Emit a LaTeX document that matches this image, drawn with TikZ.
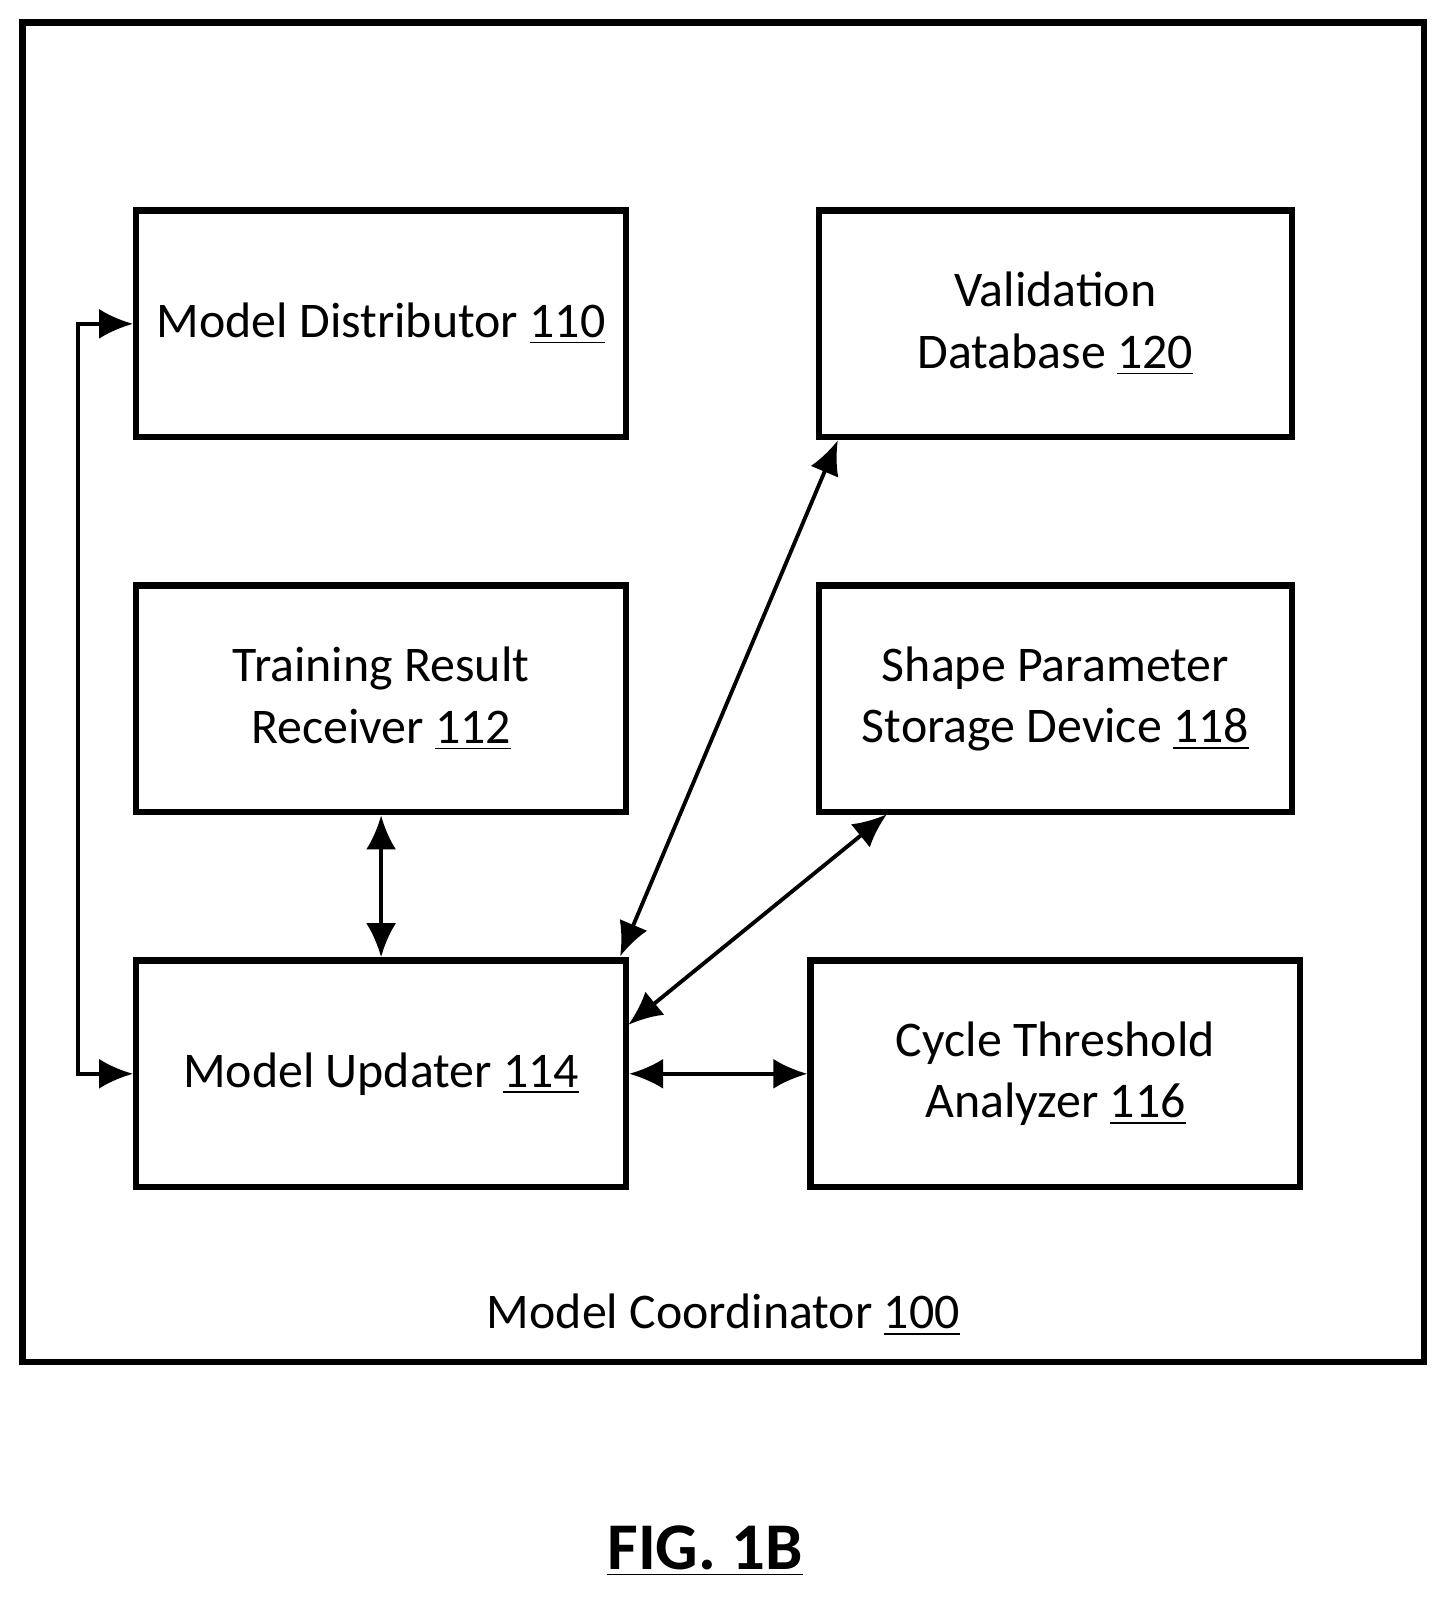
\documentclass[tikz,border=0pt]{standalone}
\usepackage{fontspec}
\setmainfont{Carlito}
\usetikzlibrary{arrows.meta,calc}
\tikzset{
  block/.style={draw, line width=1.8pt, minimum width=4.9cm, minimum height=2.27cm, align=center, font=\fontsize{14.2}{17.5}\selectfont},
  link/.style={{Latex[length=3.4mm,width=3mm]}-{Latex[length=3.4mm,width=3mm]}, line width=1.1pt}
}
\begin{document}
\begin{tikzpicture}[x=0.01022cm,y=-0.01022cm]
\useasboundingbox (0,0) rectangle (1416,1568);
\draw[line width=1.8pt] (22,22) rectangle (1394,1333);
\node[block] (dist) at (373,317) {Model Distributor \underline{110}};
\node[block, minimum width=4.73cm] (valid) at (1033,317) {Validation\\Database \underline{120}};
\node[block] (train) at (373,684) {Training Result\\Receiver \underline{112}};
\node[block, minimum width=4.73cm] (shape) at (1033,684) {Shape Parameter\\Storage Device \underline{118}};
\node[block] (upd) at (373,1051) {Model Updater \underline{114}};
\node[block] (cycle) at (1033,1051) {Cycle Threshold\\Analyzer \underline{116}};
\node[font=\fontsize{14.2}{17.5}\selectfont] (coord) at (708,1287) {Model Coordinator \underline{100}};
\node[font=\fontsize{19}{22}\selectfont\bfseries] (fig) at (690,1518) {\underline{FIG. 1B}};
%links
\draw[link] (dist.west) -- ++(-54,0) |- (upd.west);
\draw[link] (train.south) -- (upd.north);
\coordinate (vtip) at (820,431);
\coordinate (utip) at (607,936);
\draw[link] (utip) -- (vtip);
\coordinate (stip) at (868,797);
\coordinate (u2tip) at (615,1003);
\draw[link] (u2tip) -- (stip);
\draw[link] (upd.east) -- (cycle.west);
\end{tikzpicture}
\end{document}
